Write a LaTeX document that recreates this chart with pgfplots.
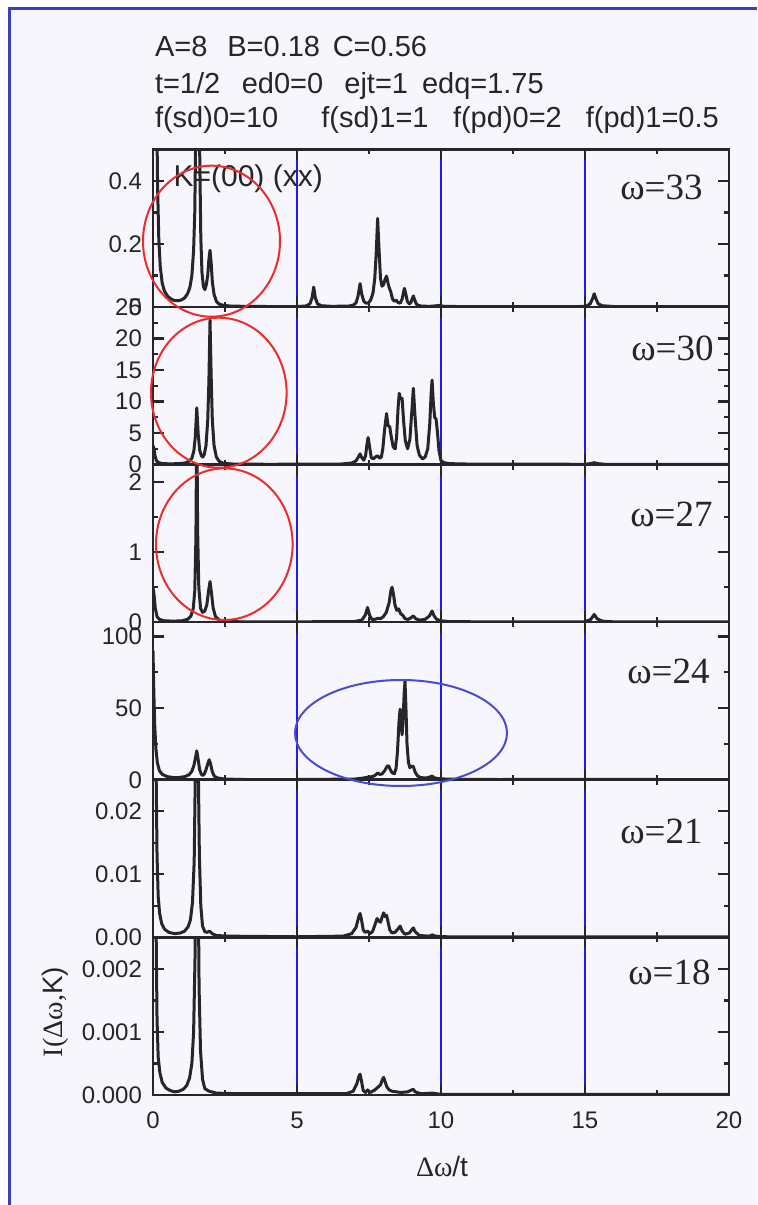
\documentclass[border=0pt]{standalone}
\usepackage{pgfplots}
\pgfplotsset{compat=1.18}
\usepackage{fontspec}
\setmainfont{Liberation Sans}
\newfontfamily\serif{Liberation Serif}
\definecolor{bgc}{RGB}{246,246,252}
\definecolor{framec}{RGB}{60,60,200}
\definecolor{axc}{RGB}{38,38,42}
\definecolor{gridc}{RGB}{30,30,240}
\definecolor{redc}{RGB}{235,45,45}
\definecolor{ellc}{RGB}{75,75,210}
\pgfplotsset{
 panel/.style={
  scale only axis, width=288pt, height=78.8pt, anchor=south west,
  xmin=0, xmax=20, ymin=0, xtick={0,5,10,15,20},
  minor x tick num=1, minor y tick num=1,
  tick align=inside, xtick pos=both, ytick pos=both, yticklabel pos=left,
  major tick length=5.5pt, minor tick length=2.5pt,
  axis on top,
  axis line style={axc, line width=1.3pt},
  tick style={axc, line width=1.1pt},
  tick label style={font=\fontsize{12}{12}\selectfont, text=axc},
  /pgf/number format/assume math mode=true,
  scaled y ticks=false,
  xticklabels={},
  yticklabel style={xshift=-2pt},
  xticklabel style={yshift=-5pt},
 },
 curve/.style={axc, line width=1.5pt, line join=round, no marks},
}
\newcommand\vgrid{\draw[gridc, line width=0.55pt] (rel axis cs:0.25,0) -- (rel axis cs:0.25,1) (rel axis cs:0.5,0) -- (rel axis cs:0.5,1) (rel axis cs:0.75,0) -- (rel axis cs:0.75,1);}
\begin{document}
\begin{tikzpicture}
\begin{scope}[x=1pt,y=1pt]
\fill[white] (0,0) rectangle (378.5,602.5);
\fill[bgc] (4,0) rectangle (378.5,598.5);
\draw[framec, line width=1.5pt] (4.5,0) -- (4.5,598) -- (378.5,598);
\end{scope}

% omega = 33
\begin{axis}[panel, at={(76.5pt,449pt)}, ymax=0.5, ytick={0,0.2,0.4}]
\vgrid
\addplot[curve] coordinates {(0,0.55) (0.04,0.9) (0.08,1.0) (0.12,0.7) (0.16,0.38) (0.2,0.22) (0.25,0.13) (0.32,0.075) (0.4,0.05) (0.5,0.035) (0.6,0.027) (0.7,0.022) (0.8,0.02) (0.9,0.02) (1.0,0.023) (1.1,0.029) (1.2,0.042) (1.28,0.062) (1.35,0.1) (1.41,0.18) (1.45,0.3) (1.49,0.6) (1.52,1.2) (1.55,1.6) (1.58,1.1) (1.62,0.5) (1.66,0.22) (1.7,0.11) (1.75,0.065) (1.8,0.055) (1.85,0.07) (1.9,0.1) (1.94,0.15) (1.98,0.18) (2.02,0.14) (2.06,0.08) (2.12,0.04) (2.2,0.018) (2.3,0.009) (2.45,0.005) (2.7,0.003) (3.2,0.002) (4.0,0.0015) (5.0,0.0015) (5.3,0.003) (5.45,0.01) (5.52,0.028) (5.58,0.063) (5.64,0.028) (5.71,0.01) (5.85,0.004) (6.2,0.002) (6.8,0.003) (6.95,0.006) (7.05,0.013) (7.12,0.035) (7.19,0.074) (7.25,0.04) (7.32,0.018) (7.4,0.012) (7.48,0.013) (7.56,0.022) (7.64,0.045) (7.7,0.09) (7.75,0.17) (7.8,0.281) (7.85,0.18) (7.9,0.09) (7.95,0.066) (8.0,0.07) (8.06,0.088) (8.11,0.098) (8.16,0.075) (8.2,0.062) (8.25,0.05) (8.32,0.025) (8.38,0.018) (8.44,0.022) (8.5,0.015) (8.58,0.012) (8.65,0.025) (8.7,0.048) (8.73,0.059) (8.77,0.045) (8.83,0.018) (8.9,0.01) (8.96,0.015) (9.0,0.026) (9.04,0.035) (9.08,0.024) (9.15,0.008) (9.3,0.003) (9.6,0.002) (9.85,0.004) (9.95,0.005) (10.1,0.002) (11,0.001) (14.8,0.001) (15.05,0.003) (15.18,0.01) (15.26,0.026) (15.32,0.042) (15.38,0.026) (15.46,0.01) (15.6,0.004) (16,0.0015) (20,0.001)};
\end{axis}

% omega = 30
\begin{axis}[panel, at={(76.5pt,370.2pt)}, ymax=25, ytick={0,5,10,15,20,25}]
\vgrid
\addplot[curve] coordinates {(0,3.0) (0.03,2.6) (0.07,1.4) (0.12,0.6) (0.2,0.3) (0.35,0.15) (0.6,0.12) (0.9,0.15) (1.1,0.25) (1.25,0.5) (1.35,1.0) (1.42,2.2) (1.47,4.5) (1.52,9.0) (1.57,4.8) (1.62,2.3) (1.68,1.4) (1.73,1.2) (1.78,1.6) (1.84,3.0) (1.9,7) (1.94,13) (1.98,22.9) (2.02,14) (2.06,7) (2.12,3) (2.2,1.2) (2.3,0.5) (2.45,0.2) (2.8,0.08) (4,0.05) (6.5,0.08) (6.9,0.25) (7.05,0.6) (7.13,1.2) (7.19,1.7) (7.25,1.1) (7.32,0.7) (7.38,1.4) (7.43,3.2) (7.47,4.3) (7.52,2.8) (7.58,1.1) (7.65,0.9) (7.72,1.2) (7.8,1.4) (7.87,1.0) (7.93,1.2) (7.98,2.5) (8.04,5.5) (8.11,8.1) (8.16,6.2) (8.22,6.0) (8.27,4.5) (8.34,2.8) (8.41,2.5) (8.46,4.5) (8.51,9.0) (8.55,11.3) (8.6,10.4) (8.65,10.5) (8.7,7.0) (8.76,3.8) (8.84,2.5) (8.92,4.0) (8.98,8.0) (9.04,12.1) (9.1,7.5) (9.17,3.0) (9.25,1.5) (9.36,0.9) (9.45,1.2) (9.54,2.5) (9.61,6.5) (9.66,11.5) (9.69,13.4) (9.73,10) (9.78,7.5) (9.83,7.2) (9.88,5) (9.93,2.2) (10.0,0.6) (10.1,0.3) (10.3,0.15) (11,0.08) (15.0,0.05) (15.2,0.15) (15.32,0.3) (15.45,0.15) (15.7,0.05) (20,0.03)};
\end{axis}

% omega = 27
\begin{axis}[panel, at={(76.5pt,291.4pt)}, ymax=2.25, ytick={0,1,2}]
\vgrid
\addplot[curve] coordinates {(0,0.5) (0.04,0.38) (0.08,0.2) (0.14,0.08) (0.22,0.04) (0.4,0.02) (0.7,0.015) (1.0,0.02) (1.2,0.04) (1.32,0.09) (1.4,0.2) (1.45,0.45) (1.49,1.2) (1.52,3.0) (1.55,1.3) (1.59,0.5) (1.65,0.2) (1.72,0.14) (1.8,0.16) (1.87,0.25) (1.93,0.45) (1.98,0.58) (2.03,0.42) (2.09,0.2) (2.17,0.08) (2.3,0.03) (2.5,0.012) (3,0.006) (5,0.005) (7.0,0.01) (7.25,0.03) (7.37,0.1) (7.45,0.21) (7.52,0.1) (7.6,0.04) (7.7,0.04) (7.8,0.055) (7.9,0.05) (8.0,0.08) (8.1,0.14) (8.2,0.28) (8.26,0.45) (8.3,0.5) (8.35,0.4) (8.4,0.25) (8.46,0.17) (8.53,0.19) (8.6,0.12) (8.67,0.1) (8.75,0.05) (8.85,0.04) (8.95,0.06) (9.04,0.09) (9.12,0.05) (9.25,0.03) (9.45,0.04) (9.6,0.09) (9.69,0.16) (9.76,0.09) (9.85,0.04) (10.0,0.02) (10.3,0.008) (12,0.004) (15.0,0.006) (15.2,0.04) (15.32,0.11) (15.42,0.05) (15.6,0.015) (16,0.005) (20,0.003)};
\end{axis}

% omega = 24
\begin{axis}[panel, at={(76.5pt,212.6pt)}, ymax=110, ytick={0,50,100}]
\vgrid
\addplot[curve] coordinates {(0,90) (0.03,60) (0.06,38) (0.1,22) (0.15,12) (0.22,6.5) (0.32,3.8) (0.5,2.2) (0.7,1.6) (0.9,1.6) (1.1,2.2) (1.25,3.5) (1.35,6) (1.42,10) (1.47,15) (1.52,20.2) (1.57,14) (1.62,7) (1.68,3.8) (1.73,3.0) (1.78,4) (1.84,7) (1.9,11) (1.95,14) (2.0,11) (2.06,5.5) (2.13,2.5) (2.25,1.2) (2.5,0.5) (3.2,0.2) (5,0.2) (7.0,0.5) (7.3,1.2) (7.5,2.0) (7.62,2.2) (7.72,3.2) (7.8,4.8) (7.87,3.8) (7.95,4.0) (8.05,6.5) (8.13,9.5) (8.18,9.8) (8.24,7.0) (8.3,5.0) (8.38,4.2) (8.44,8) (8.49,20) (8.54,40) (8.58,49.3) (8.62,38) (8.65,31.4) (8.69,45) (8.72,60) (8.75,68.6) (8.78,52) (8.82,25) (8.87,12) (8.92,8.5) (8.98,9.5) (9.04,9.3) (9.1,5.5) (9.18,2.8) (9.3,1.5) (9.5,1.3) (9.62,2.0) (9.69,2.6) (9.76,1.5) (9.9,0.8) (10.3,0.4) (12,0.2) (15.3,0.3) (20,0.1)};
\end{axis}

% omega = 21
\begin{axis}[panel, at={(76.5pt,133.8pt)}, ymax=0.025, ytick={0,0.01,0.02},
  yticklabel style={/pgf/number format/.cd, fixed, fixed zerofill, precision=2}]
\vgrid
\addplot[curve] coordinates {(0,0.04) (0.05,0.045) (0.1,0.03) (0.14,0.013) (0.18,0.0065) (0.23,0.0038) (0.3,0.0022) (0.4,0.0013) (0.55,0.0008) (0.75,0.0006) (0.95,0.0007) (1.1,0.001) (1.22,0.0017) (1.3,0.0028) (1.37,0.0055) (1.43,0.012) (1.48,0.03) (1.52,0.05) (1.56,0.032) (1.61,0.013) (1.66,0.005) (1.72,0.0018) (1.8,0.0009) (1.88,0.0008) (1.96,0.001) (2.05,0.0006) (2.2,0.0003) (2.6,0.0002) (5,0.0001) (6.6,0.0002) (6.9,0.0006) (7.05,0.0016) (7.14,0.0032) (7.19,0.0038) (7.24,0.0028) (7.3,0.0012) (7.36,0.0008) (7.45,0.001) (7.53,0.0006) (7.62,0.0009) (7.7,0.0019) (7.78,0.003) (7.84,0.0026) (7.9,0.0024) (7.96,0.0033) (8.01,0.0039) (8.06,0.0033) (8.11,0.0035) (8.16,0.0025) (8.22,0.0012) (8.3,0.0007) (8.4,0.0008) (8.5,0.0013) (8.58,0.0018) (8.65,0.001) (8.75,0.0005) (8.9,0.0007) (9.0,0.0013) (9.04,0.0015) (9.1,0.0009) (9.25,0.0003) (9.6,0.0002) (9.69,0.0004) (9.8,0.0002) (10.2,0.0001) (20,0.0001)};
\end{axis}

% omega = 18
\begin{axis}[panel, at={(76.5pt,55pt)}, ymax=0.0025, ytick={0,0.001,0.002},
  yticklabel style={/pgf/number format/.cd, fixed, fixed zerofill, precision=3},
  xticklabels={0,5,10,15,20}]
\vgrid
\addplot[curve] coordinates {(0,0.004) (0.05,0.0045) (0.1,0.003) (0.14,0.0012) (0.18,0.0006) (0.24,0.00035) (0.32,0.0002) (0.45,0.00011) (0.6,0.00007) (0.75,0.00005) (0.9,0.00006) (1.05,0.00009) (1.17,0.00015) (1.27,0.00027) (1.35,0.0005) (1.41,0.001) (1.46,0.0022) (1.5,0.005) (1.53,0.006) (1.56,0.004) (1.6,0.0017) (1.65,0.0007) (1.72,0.00025) (1.8,0.0001) (1.95,0.00006) (2.2,0.00003) (3,0.00002) (6.7,0.00002) (6.95,0.00006) (7.08,0.00018) (7.15,0.0003) (7.19,0.00033) (7.24,0.00022) (7.3,0.00007) (7.38,0.00004) (7.45,0.00008) (7.55,0.00004) (7.7,0.00008) (7.8,0.00012) (7.9,0.00016) (7.96,0.00024) (8.01,0.00028) (8.06,0.00021) (8.12,0.00013) (8.2,0.00008) (8.3,0.00006) (8.45,0.00005) (8.6,0.00004) (8.85,0.00005) (8.98,0.00008) (9.04,0.00009) (9.1,0.00005) (9.3,0.00002) (9.69,0.00003) (10,0.00001) (20,0.00001)};
\end{axis}

\begin{scope}[x=1pt,y=1pt]
% header
\begin{scope}[every node/.style={anchor=base west, inner sep=0pt, text=axc, font=\fontsize{14.5}{14.5}\selectfont}]
\node at (77.3,574) {A=8};
\node at (113.5,574) {B=0.18};
\node at (166.2,574) {C=0.56};
\node at (77.3,555.5) {t=1/2};
\node at (120.7,555.5) {ed0=0};
\node at (172,555.5) {ejt=1};
\node at (210.8,555.5) {edq=1.75};
\node at (77.3,538.5) {f(sd)0=10};
\node at (160.5,538.5) {f(sd)1=1};
\node at (226.3,538.5) {f(pd)0=2};
\node at (292.7,538.5) {f(pd)1=0.5};
\end{scope}
\node[anchor=base west, inner sep=0pt, text=axc, font=\fontsize{15}{15}\selectfont] at (86.6,509.2) {K=(00) (xx)};
% omega labels
\begin{scope}[every node/.style={anchor=base east, inner sep=0pt, text=axc, font=\fontsize{18.5}{18.5}\serif}]
\node at (351.5,502.5) {ω=33};
\node at (357,422.2) {ω=30};
\node at (356.5,339.2) {ω=27};
\node at (355,260.5) {ω=24};
\node at (351.5,180.5) {ω=21};
\node at (355.5,110) {ω=18};
\end{scope}
% axis titles
\node[rotate=90, inner sep=0pt, text=axc, font=\fontsize{14}{14}\selectfont] at (27.5,96.5) {{\serif I(Δω,}K)};
\node[anchor=base, inner sep=0pt, text=axc, font=\fontsize{14}{14}\selectfont] at (221,14) {{\serif Δω}/t};
% annotations
\draw[redc, line width=1pt] (105.75,481.9) ellipse [x radius=34.25pt, y radius=37.75pt];
\draw[redc, line width=1pt] (109.4,406.15) ellipse [x radius=33.9pt, y radius=37.5pt];
\draw[redc, line width=1pt] (112.15,330.4) ellipse [x radius=34.15pt, y radius=37.9pt];
\draw[ellc, line width=1pt] (200.5,236) ellipse [x radius=53pt, y radius=26.5pt];
\end{scope}
\pgfresetboundingbox
\path[use as bounding box] (0,0) rectangle (378.5pt,602.5pt);
\end{tikzpicture}
\end{document}
